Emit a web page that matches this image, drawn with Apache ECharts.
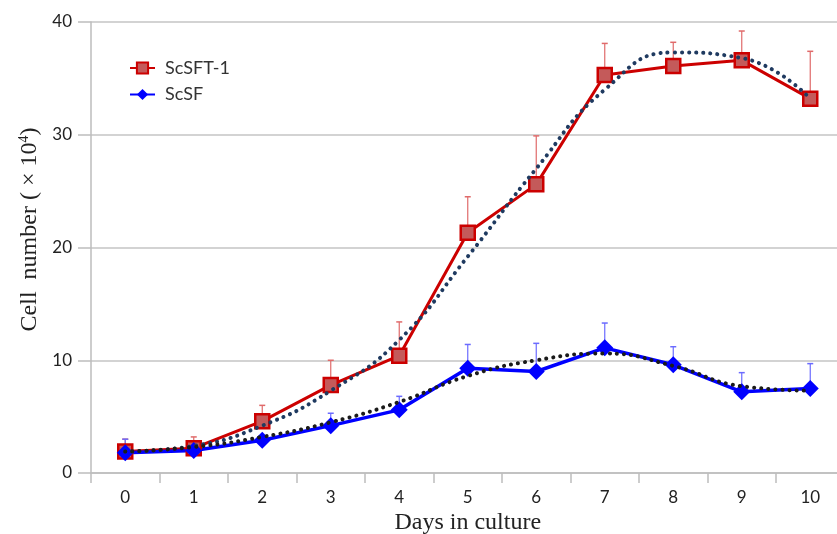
<!DOCTYPE html>
<html>
<head>
<meta charset="utf-8">
<script src="https://cdn.jsdelivr.net/npm/echarts@6/dist/echarts.min.js"></script>
<style>html,body{margin:0;padding:0;background:#fff;}#c{width:837px;height:534px;}</style>
</head>
<body>
<div id="c"></div>
<script>
var days = ['0','1','2','3','4','5','6','7','8','9','10'];
var yTicks = [0, 10, 20, 30, 40];
var scsft1 = [1.9, 2.2, 4.6, 7.8, 10.4, 21.3, 25.6, 35.3, 36.1, 36.6, 33.2];
var scsft1ErrTop = [3.0, 3.2, 6.0, 10.0, 13.4, 24.5, 29.9, 38.1, 38.2, 39.2, 37.4];
var scsf = [1.8, 2.0, 2.9, 4.2, 5.6, 9.3, 9.0, 11.1, 9.6, 7.2, 7.5];
var scsfErrTop = [3.0, 2.6, 3.2, 5.3, 6.8, 11.4, 11.5, 13.3, 11.2, 8.9, 9.7];
var scsft1Trend = [1.9, 2.4, 4.2, 7.3, 11.8, 19.2, 27.0, 34.0, 37.3, 36.8, 33.2];
var scsfTrend = [1.9, 2.3, 3.2, 4.5, 6.3, 8.6, 10.0, 10.6, 9.5, 7.7, 7.3];

function errSeries(vals, tops, color) {
  var d = vals.map(function (v, i) { return [i, v, tops[i]]; });
  return {
    type: 'custom', data: d, z: 1, silent: true,
    renderItem: function (params, api) {
      var p0 = api.coord([api.value(0), api.value(1)]);
      var p1 = api.coord([api.value(0), api.value(2)]);
      return { type: 'group', children: [
        { type: 'line', shape: { x1: p0[0], y1: p0[1], x2: p1[0], y2: p1[1] }, style: { stroke: color, lineWidth: 1.2 } },
        { type: 'line', shape: { x1: p1[0] - 3, y1: p1[1], x2: p1[0] + 3, y2: p1[1] }, style: { stroke: color, lineWidth: 1.5 } }
      ]};
    }
  };
}

var chart = echarts.init(document.getElementById('c'));
chart.setOption({
  animation: false,
  backgroundColor: '#fff',
  grid: { left: 91, top: 22, width: 753.5, height: 451, containLabel: false, outerBoundsMode: 'none' },
  legend: {
    data: ['ScSFT-1', 'ScSF'],
    orient: 'vertical', left: 124, top: 54,
    itemWidth: 25, itemHeight: 14, itemGap: 8.5,
    textStyle: { fontFamily: 'Lato', fontSize: 18, color: '#333', padding: [0, 0, 0, 5] }
  },
  xAxis: {
    type: 'category', data: days, boundaryGap: true,
    name: 'Days in culture', nameLocation: 'middle', nameGap: 37,
    nameTextStyle: { fontFamily: 'Liberation Serif', fontSize: 24, color: '#222' },
    axisLine: { lineStyle: { color: '#bdbdbd', width: 1.5 } },
    axisTick: { show: true, length: 10, lineStyle: { color: '#bdbdbd', width: 1.5 } },
    axisLabel: { fontFamily: 'Lato', fontSize: 17, color: '#222', margin: 16 },
    splitLine: { show: false }
  },
  yAxis: {
    type: 'value', min: yTicks[0], max: yTicks[yTicks.length - 1], interval: 10,
    name: '{a|Cell  number ( × 10}{s|4}{a|)}', nameLocation: 'middle', nameGap: 48,
    nameTextStyle: { padding: [0, 0, 0, 36], rich: {
      a: { fontFamily: 'Liberation Serif', fontSize: 24, color: '#222' },
      s: { fontFamily: 'Liberation Serif', fontSize: 14, color: '#222', verticalAlign: 'top', padding: [0, 0, 10, 0] }
    } },
    axisLine: { show: true, lineStyle: { color: '#bdbdbd', width: 1.5 } },
    axisTick: { show: true, length: 13, lineStyle: { color: '#bdbdbd', width: 1.5 } },
    axisLabel: { fontFamily: 'Lato', fontSize: 17, color: '#222', margin: 19 },
    splitLine: { lineStyle: { color: '#c4c4c4', width: 1.5 } }
  },
  series: [
    errSeries(scsft1, scsft1ErrTop, '#e06a6a'),
    errSeries(scsf, scsfErrTop, '#6b6bff'),
    {
      name: 'ScSFT-1', type: 'line', data: scsft1, z: 3,
      symbol: 'rect', symbolSize: 14,
      lineStyle: { color: '#cc0000', width: 3 },
      itemStyle: { color: '#c45a5a', borderColor: '#cc0000', borderWidth: 2.5 }
    },
    {
      name: 'ScSF', type: 'line', data: scsf, z: 3,
      symbol: 'diamond', symbolSize: 17,
      lineStyle: { color: '#0000ff', width: 3.5 },
      itemStyle: { color: '#0000ff' }
    },
    {
      name: 'trend1', type: 'line', data: scsft1Trend, smooth: 0.5, z: 5,
      symbol: 'none', silent: true,
      lineStyle: { color: '#1f3a60', width: 4, type: [0.1, 7], cap: 'round' }
    },
    {
      name: 'trend2', type: 'line', data: scsfTrend, smooth: 0.5, z: 5,
      symbol: 'none', silent: true,
      lineStyle: { color: '#1a1a1a', width: 4, type: [0.1, 7], cap: 'round' }
    }
  ]
});
</script>
</body>
</html>
